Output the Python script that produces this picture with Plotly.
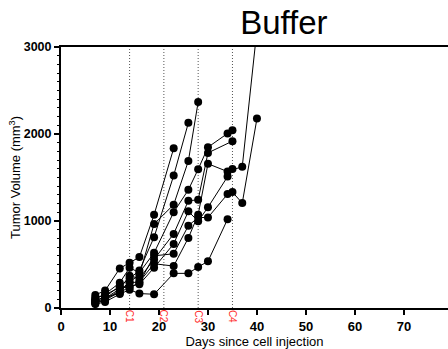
import plotly.graph_objects as go

# Measurement days and tumour volumes (mm^3) per mouse
s1_days = [7, 9, 12, 14, 16, 19, 23, 26, 28]
s1_vals = [60, 100, 200, 300, 380, 966, 1187, 1690, 2368]
s2_days = [7, 9, 12, 14, 16, 19, 23, 26]
s2_vals = [80, 130, 250, 340, 430, 814, 1522, 2128]
s3_days = [7, 9, 12, 14, 16, 19, 23]
s3_vals = [150, 200, 455, 520, 585, 1072, 1835]
s4_days = [7, 9, 12, 14, 16, 19, 23, 26, 28, 30, 34]
s4_vals = [45, 70, 160, 210, 166, 158, 398, 398, 472, 536, 1020]
s5_days = [7, 9, 12, 14, 16, 19, 23, 26, 28, 30, 34, 35]
s5_vals = [100, 160, 290, 463, 406, 634, 1100, 1358, 1595, 1848, 2006, 2044]
s6_days = [7, 9, 12, 14, 16, 19, 23, 26, 28, 30, 35]
s6_vals = [70, 110, 220, 370, 340, 558, 852, 1232, 1244, 1783, 1918]
s7_days = [7, 9, 12, 14, 16, 19, 23, 26, 28, 30, 34, 37, 40]
s7_vals = [55, 90, 185, 290, 300, 509, 482, 806, 1072, 1658, 1568, 1625, 3200]
s8_days = [7, 9, 12, 14, 16, 19, 23, 26, 28, 30, 34, 35]
s8_vals = [90, 120, 170, 250, 272, 463, 737, 1111, 997, 1157, 1511, 1598]
s9_days = [7, 9, 12, 14, 16, 19, 23, 26, 28, 30, 34, 35, 37, 40]
s9_vals = [120, 150, 240, 234, 290, 600, 623, 946, 1040, 1040, 1309, 1332, 1206, 2177]

series = [(s1_days, s1_vals), (s2_days, s2_vals), (s3_days, s3_vals),
          (s4_days, s4_vals), (s5_days, s5_vals), (s6_days, s6_vals),
          (s7_days, s7_vals), (s8_days, s8_vals), (s9_days, s9_vals)]

cycle_days = [14, 21, 28, 35]
cycle_labels = ["C1", "C2", "C3", "C4"]
x_ticks = [0, 10, 20, 30, 40, 50, 60, 70]
y_ticks = [0, 1000, 2000, 3000]

FONT = "Liberation Sans, Arial, sans-serif"

fig = go.Figure()
for d, v in series:
    fig.add_trace(go.Scatter(
        x=d, y=v, mode="lines+markers",
        line=dict(color="black", width=1),
        marker=dict(color="black", size=8),
        showlegend=False, cliponaxis=True))

for cd in cycle_days:
    fig.add_shape(type="line", x0=cd, x1=cd, y0=0, y1=3000, xref="x", yref="y",
                  line=dict(color="#555", width=1, dash="1px,2px"), layer="below")

for cd, lab in zip(cycle_days, cycle_labels):
    fig.add_annotation(x=cd, xref="x", y=-0.032, yref="paper", yanchor="middle",
                       text=lab, textangle=90, showarrow=False,
                       font=dict(family=FONT, size=10, color="#ff2a2a"))

fig.update_layout(
    width=448, height=349,
    margin=dict(l=61, r=0, t=47, b=38),
    paper_bgcolor="white", plot_bgcolor="white",
    font=dict(family=FONT, color="black"),
    title=dict(text="Buffer", x=258 / 448, xanchor="center", xref="paper",
               y=1 - 22 / 349, yref="container", yanchor="middle",
               font=dict(size=33, color="black")),
    xaxis=dict(range=[0, 79], tickvals=x_ticks, showgrid=False, zeroline=False,
               showline=True, linecolor="black", linewidth=2, mirror=True,
               ticks="outside", ticklen=5, tickwidth=1.5, tickcolor="black",
               tickfont=dict(size=13, family=FONT, weight="bold"),
               title=dict(text="Days since cell injection", font=dict(size=13), standoff=6)),
    yaxis=dict(range=[0, 3000], tickvals=y_ticks, showgrid=False, zeroline=False,
               showline=True, linecolor="black", linewidth=2,
               ticks="outside", ticklen=5, tickwidth=1.5, tickcolor="black",
               minor=dict(ticks="outside", dtick=100, ticklen=2.5, tickwidth=1, tickcolor="black"),
               tickfont=dict(size=12.5, family=FONT, weight="bold"),
               title=dict(text="Tumor Volume (mm<sup>3</sup>)", font=dict(size=13), standoff=0)),
)

fig.write_html("out.html")
